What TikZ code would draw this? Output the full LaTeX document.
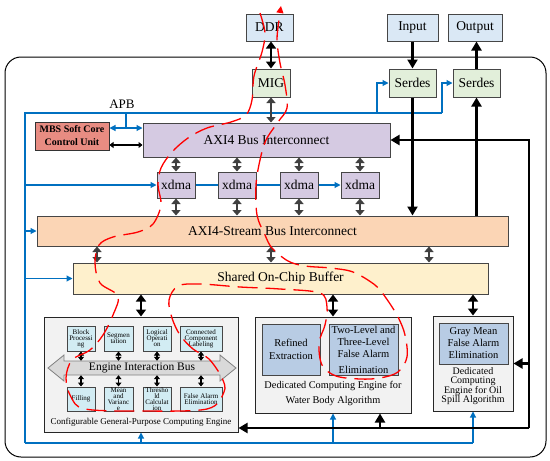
\documentclass[tikz,border=0pt]{standalone}
\usepackage{fontspec}
\setmainfont{Liberation Serif}
\usepackage{tikz}
\usetikzlibrary{arrows.meta}
\definecolor{bdgray}{RGB}{70,70,70}
\definecolor{ioblue}{RGB}{218,232,245}
\definecolor{migGreen}{RGB}{226,239,218}
\definecolor{mbsRed}{RGB}{232,140,130}
\definecolor{axiPurple}{RGB}{213,202,226}
\definecolor{axisPeach}{RGB}{251,213,181}
\definecolor{bufYellow}{RGB}{254,240,204}
\definecolor{engGray}{RGB}{242,242,242}
\definecolor{subCyan}{RGB}{210,236,243}
\definecolor{algBlue}{RGB}{184,204,228}
\definecolor{lnBlue}{RGB}{0,112,192}
\definecolor{dkGray}{RGB}{64,64,64}
\definecolor{busGray}{RGB}{217,217,217}
\tikzset{box/.style={draw=bdgray, line width=1pt, inner sep=0pt, align=center}}
\tikzset{ioB/.style={box, fill=ioblue, minimum height=27pt, font=\fontsize{13.5}{15}\selectfont}}
\tikzset{grnB/.style={box, fill=migGreen, minimum height=28pt, font=\fontsize{13.5}{15}\selectfont}}
\tikzset{purB/.style={box, fill=axiPurple, font=\fontsize{13.5}{15}\selectfont}}
\tikzset{subB/.style={box, fill=subCyan, font={\fontsize{7}{6}\selectfont\lineskiplimit=-10pt}}}
\tikzset{engB/.style={box, draw=black!85, fill=engGray}}
\tikzset{algB/.style={box, fill=algBlue, font=\fontsize{10.5}{12.3}\selectfont}}
\tikzset{tip/.style={-{Triangle[length=9pt,width=10pt]}, line width=2.2pt}}
\tikzset{tip2/.style={{Triangle[length=7pt,width=10pt]}-{Triangle[length=7pt,width=10pt]}, line width=2.6pt}}
\tikzset{gdbl/.style={{Triangle[length=5.5pt,width=9pt]}-{Triangle[length=5.5pt,width=9pt]}, line width=2.2pt, draw=dkGray, fill=dkGray}}
\tikzset{sdbl/.style={{Triangle[length=4pt,width=6pt]}-{Triangle[length=4pt,width=6pt]}, line width=1.3pt}}
\tikzset{bln/.style={draw=lnBlue, line width=1.1pt}}
\tikzset{blarr/.style={bln, -{Triangle[length=6pt,width=6pt]}}}
\tikzset{bldbl/.style={bln, {Triangle[length=6pt,width=6pt]}-{Triangle[length=6pt,width=6pt]}}}
\begin{document}
\begin{tikzpicture}[x=1pt,y=-1pt]
\useasboundingbox (0,0) rectangle (550,461);
\draw[line width=1pt, rounded corners=16pt] (5,57) rectangle (546,457);
\node[ioB, minimum width=47pt] (ddr) at (269.5,27.5) {DDR};
\node[ioB, minimum width=51pt] (inp) at (412.5,27.5) {Input};
\node[ioB, minimum width=54pt] (out) at (475,27.5) {Output};
\node[grnB, minimum width=38pt] (mig) at (271,83) {MIG};
\node[grnB, minimum width=47pt] (ser1) at (412.5,83) {Serdes};
\node[grnB, minimum width=47pt] (ser2) at (476.5,83) {Serdes};
\node[font=\fontsize{13}{14}\selectfont] (apb) at (122,104) {APB};
\node[box, fill=mbsRed, draw=black!80, minimum width=74pt, minimum height=28pt, font=\fontsize{10}{13}\selectfont\bfseries] (mbs) at (72,136) {MBS Soft Core\\Control Unit};
\node[purB, minimum width=247pt, minimum height=34pt] (axi) at (266.5,140) {AXI4 Bus Interconnect};
\draw
\foreach \n/\x in {1/176,2/237,3/299,4/360}{(\x,185) node[purB, minimum width=38pt, minimum height=26pt](xd\n){xdma}}
;
\node[box, fill=axisPeach, minimum width=471pt, minimum height=30pt, font=\fontsize{13.5}{15}\selectfont] (axis) at (272.5,231) {AXI4-Stream Bus Interconnect};
\node[box, fill=bufYellow, minimum width=415pt, minimum height=31pt, font=\fontsize{13.5}{15}\selectfont] (buf) at (280.5,278.5) {Shared On-Chip Buffer};
\node[engB, minimum width=194pt, minimum height=115pt] (gen) at (141,374.5) {};
\node[font=\fontsize{9}{10}\selectfont] (genl) at (141,422) {Configurable General-Purpose Computing Engine};
\draw
\foreach \n/\x/\w/\t in {1/81/28/{Block\\Processi\\ng},2/118.5/29/{Segmen\\tation},3/157/28/{Logical\\Operati\\on},4/201/42/{Connected\\Component\\Labeling}}{(\x,338.5) node[subB, minimum width=\w pt, minimum height=25pt](t\n){\t}}
\foreach \n/\x/\w/\t in {1/81/28/{Filling},2/118.5/29/{Mean\\and\\Varianc\\e},3/157/28/{Thresho\\ld\\Calculat\\ion},4/201/42/{False Alarm\\Elimination}}{(\x,399) node[subB, minimum width=\w pt, minimum height=24pt](b\n){\t}}
;
\draw[draw=gray, fill=busGray, line width=0.8pt] (48,368) -- (64,355) -- (64,361) -- (220,361) -- (220,355) -- (236,368) -- (220,381) -- (220,375) -- (64,375) -- (64,381) -- cycle;
\node[minimum width=156pt, minimum height=14pt, inner sep=0pt, font=\fontsize{11.5}{12}\selectfont] (ebus) at (142,368) {Engine Interaction Bus};
\node[engB, minimum width=156pt, minimum height=96pt] (wat) at (333,365) {};
\node[algB, minimum width=58pt, minimum height=51pt] (ref) at (291,349.5) {Refined\\Extraction};
\node[algB, minimum width=69pt, minimum height=51pt] (two) at (363.5,349.5) {Two-Level and\\Three-Level\\False Alarm\\[3pt]Elimination};
\node[font=\fontsize{10.3}{15}\selectfont, align=center] (watl) at (333,393.5) {Dedicated Computing Engine for\\Water Body Algorithm};
\node[engB, minimum width=80pt, minimum height=95pt] (oil) at (473,363.5) {};
\node[algB, minimum width=69pt, minimum height=41pt, font=\fontsize{10.5}{12}\selectfont] (gm) at (473.5,343.5) {Gray Mean\\False Alarm\\Elimination};
\node[font={\fontsize{10}{9.5}\selectfont\lineskiplimit=-10pt}, align=center] (oill) at (473,386) {Dedicated\\Computing\\Engine for Oil\\Spill Algorithm};
\coordinate (tl) at (25,113);
\coordinate (bl) at (25,443);
\coordinate (fb) at (529,428);
\draw[bln] (bl) -- (tl) -- (442,113);
\draw[blarr] (377,113) |- (ser1.west);
\draw[blarr] (442,113) |- (ser2.west);
\draw[bln] (126,113) -- (126,128);
\draw[bldbl] ([yshift=8pt]mbs.east) -- ([yshift=12pt]axi.west);
\draw[sdbl] ([yshift=-9pt]mbs.east) -- ([yshift=-5pt]axi.west);
\draw[blarr] (tl |- xd1.west) -- (xd1.west);
\draw[blarr]
\foreach \x/\y in {1/2,2/3,3/4}{
(xd\x.east)--(xd\y.west)
}
;
\draw[blarr] (tl |- axis.west) -- (axis.west);
\draw[blarr] (tl |- buf.west) -- (buf.west);
\draw[bln] (bl) -- (oil.south |- bl);
\draw[blarr] (gen.south |- bl) -- (gen.south);
\draw[blarr] (wat.south |- bl) -- (wat.south);
\draw[blarr] (oil.south |- bl) -- (oil.south);
\draw[tip2] (mig.north) -- (mig.north |- ddr.south);
\draw[gdbl] (mig.south) -- (mig.south |- axi.north);
\draw[tip] (inp.south) -- (ser1.north);
\draw[tip] (ser2.north) -- (ser2.north |- out.south);
\draw[tip] (ser1.south) -- (ser1.south |- axis.north);
\draw[tip] (ser2.south |- axis.north) -- (ser2.south);
\draw[tip] (fb) |- (axi.east);
\draw[tip] (fb) -- (gen.east |- fb);
\draw[tip] (fb |- oil.east) -- (oil.east);
\draw[tip] ([xshift=47pt]wat.south |- fb) -- ([xshift=47pt]wat.south);
\foreach \n in {1,...,4}{
\draw[gdbl] (xd\n.north) -- (xd\n.north |- axi.south);
\draw[gdbl] (xd\n.south) -- (xd\n.south |- axis.north);
\draw[sdbl] (t\n.south) -- (t\n.south |- ebus.north);
\draw[sdbl] (b\n.north) -- (b\n.north |- ebus.south);
}
\foreach \d in {-175.5,-1.5,156.5}{
\draw[gdbl] ([xshift=\d pt]axis.south) -- ([xshift=\d pt]axis.south |- buf.north);
}
\draw[tip2] (gen.north |- buf.south) -- (gen.north);
\draw[tip2] (wat.north |- buf.south) -- (wat.north);
\draw[tip2] (oil.north |- buf.south) -- (oil.north);
\draw[red, line width=1.3pt, dash pattern=on 20pt off 8pt, -{Triangle[length=7pt,width=7pt]}] plot[smooth, tension=0.55] coordinates {(260,13) (265,33) (262,52) (254,76) (252,100) (246,115) (231,122) (207,128) (188,138) (172,152) (161,168) (158,185) (161,205) (153,224) (138,232) (113,237) (99,245) (95,263) (100,283) (118,296) (113,315) (103,335) (90,350) (72,360) (66,378) (71,397) (85,409) (140,411) (207,409) (224,392) (222,378) (209,359) (193,349) (180,335) (172,318) (169,300) (178,286) (200,284) (240,287) (280,289) (320,293) (327,307) (325,325) (319,343) (322,365) (336,376) (360,379) (380,378) (398,372) (407,357) (405,335) (398,317) (386,298) (375,285) (353,272) (330,268) (305,266) (288,261) (272,248) (265,235) (257,215) (256,185) (260,160) (266,140) (278,122) (287,108) (285,85) (280,63) (277,40) (279,20) (281,6)};
\end{tikzpicture}
\end{document}
